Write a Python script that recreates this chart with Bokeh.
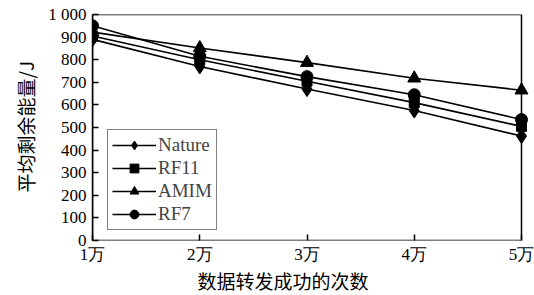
from bokeh.plotting import figure
from bokeh.models import Range1d, FixedTicker, Legend, LegendItem
from bokeh.embed import file_html
from bokeh.resources import INLINE

x = [1, 2, 3, 4, 5]
x_labels = ["1万", "2万", "3万", "4万", "5万"]
nature = [890, 770, 670, 575, 462]
rf11 = [905, 800, 705, 610, 505]
amim = [922, 852, 787, 718, 665]
rf7 = [950, 815, 725, 645, 535]
y_ticks = [0, 100, 200, 300, 400, 500, 600, 700, 800, 900, 1000]

pad = 9
inner_w = 429
dx = pad * (x[-1] - x[0]) / inner_w

p = figure(frame_width=inner_w + pad, frame_height=226, output_backend="svg", toolbar_location=None,
           x_range=Range1d(x[0], x[-1] + dx), y_range=Range1d(0, 1000),
           min_border_left=92, min_border_right=13 - pad, min_border_top=14, min_border_bottom=55)
p.grid.visible = False
p.outline_line_color = None
p.background_fill_color = "white"

# plot box (axes frame) spanning the full data range
p.quad(left=x[0], right=x[-1], bottom=y_ticks[0], top=y_ticks[-1],
       fill_color=None, line_color="black", line_width=1.5)

serif = "Liberation Serif"
for ax in (p.xaxis[0], p.yaxis[0]):
    ax.axis_line_color = "black"
    ax.axis_line_width = 1.5
    ax.major_tick_in = 6
    ax.major_tick_out = 0
    ax.minor_tick_line_color = None
    ax.major_tick_line_color = "black"
    ax.major_tick_line_width = 1.5
    ax.major_label_text_font = serif
    ax.major_label_text_font_size = "17px"
    ax.major_label_text_color = "black"
    ax.axis_label_text_font_style = "normal"
    ax.axis_label_text_color = "black"

p.xaxis.axis_line_color = None

p.xaxis.ticker = FixedTicker(ticks=x)
p.xaxis.major_label_overrides = {xv: lab for xv, lab in zip(x, x_labels)}
p.xaxis.major_label_text_font = serif
p.xaxis.major_label_text_font_size = "17px"
p.xaxis.major_label_standoff = 4
p.xaxis.axis_label = "数据转发成功的次数\u3000\u3000\u3000"
p.xaxis.axis_label_text_font = "Noto Sans CJK SC"
p.xaxis.axis_label_text_font_size = "19px"
p.xaxis.axis_label_standoff = 0

p.yaxis.ticker = FixedTicker(ticks=y_ticks)
p.yaxis.major_label_overrides = {1000: "1 000"}
p.yaxis.major_label_standoff = 6
p.yaxis.axis_label = "平均剩余能量/J"
p.yaxis.axis_label_text_font = "Noto Sans CJK SC"
p.yaxis.axis_label_text_font_size = "19px"
p.yaxis.axis_label_standoff = 6

items = []
series = [("Nature", nature, "diamond", 15), ("RF11", rf11, "square", 10),
          ("AMIM", amim, "triangle", 13), ("RF7", rf7, "circle", 12)]
for name, ys, marker, size in series:
    l = p.line(x, ys, line_color="black", line_width=1.6)
    m = p.scatter(x, ys, marker=marker, size=size, fill_color="black", line_color="black")
    items.append(LegendItem(label=name, renderers=[l, m]))

legend = Legend(items=items, location=(15, 10))
legend.border_line_color = "black"
legend.border_line_width = 1.5
legend.label_text_font = serif
legend.label_text_font_size = "19px"
legend.glyph_width = 44
legend.glyph_height = 22
legend.label_height = 22
legend.spacing = 1
legend.padding = 4
legend.margin = 0
legend.label_standoff = 2
legend.background_fill_alpha = 1
p.add_layout(legend, "center")

open("out.html", "w").write(file_html(p, INLINE))
